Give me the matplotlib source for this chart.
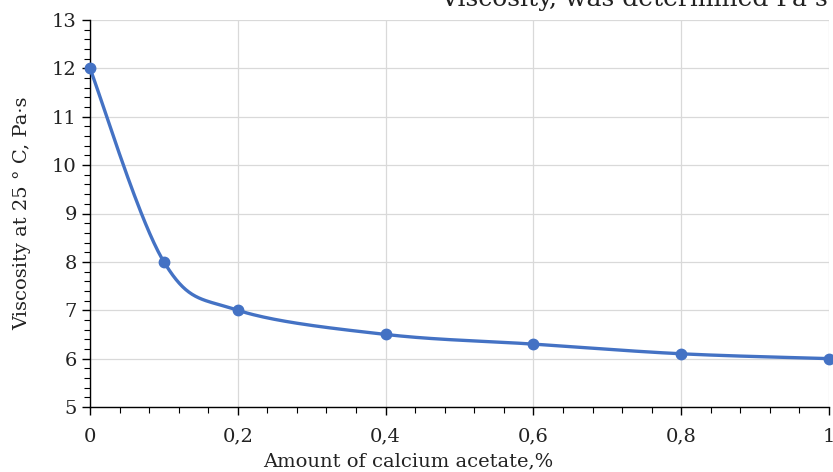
import numpy as np
import matplotlib.pyplot as plt
from matplotlib.ticker import MultipleLocator, FuncFormatter

# data
acetate = [0, 0.1, 0.2, 0.4, 0.6, 0.8, 1.0]
viscosity = [12, 8, 7, 6.5, 6.3, 6.1, 6.0]

BLUE = '#4472C4'
plt.rcParams['font.family'] = ['DejaVu Serif']


def excel_smooth(x, y, n=40):
    """Bezier smoothing like a spreadsheet 'smoothed line'."""
    x = np.asarray(x, float)
    y = np.asarray(y, float)
    px = np.concatenate([[x[0]], x, [x[-1]]])
    py = np.concatenate([[y[0]], y, [y[-1]]])
    xs, ys = [], []
    t = np.linspace(0, 1, n)
    for i in range(len(x) - 1):
        p0 = np.array([px[i + 1], py[i + 1]])
        p3 = np.array([px[i + 2], py[i + 2]])
        c1 = p0 + (np.array([px[i + 2], py[i + 2]]) - np.array([px[i], py[i]])) / 6
        c2 = p3 - (np.array([px[i + 3], py[i + 3]]) - np.array([px[i + 1], py[i + 1]])) / 6
        seg = ((1 - t) ** 3)[:, None] * p0 + (3 * (1 - t) ** 2 * t)[:, None] * c1 \
            + (3 * (1 - t) * t ** 2)[:, None] * c2 + (t ** 3)[:, None] * p3
        xs.extend(seg[:, 0])
        ys.extend(seg[:, 1])
    return np.array(xs), np.array(ys)


fig = plt.figure(figsize=(8.33, 4.72), dpi=100)
ax = fig.add_axes([90 / 833, 1 - 407 / 472, 739 / 833, 387 / 472])

sx, sy = excel_smooth(acetate, viscosity)
ax.plot(sx, sy, color=BLUE, lw=2.4, zorder=3, clip_on=False)
ax.plot(acetate, viscosity, 'o', color=BLUE, ms=7.5, zorder=4, clip_on=False)

ax.set_xlim(0, 1)
ax.set_ylim(5, 13)
ax.xaxis.set_major_locator(MultipleLocator(0.2))
ax.xaxis.set_minor_locator(MultipleLocator(0.04))
ax.yaxis.set_major_locator(MultipleLocator(1))
ax.yaxis.set_minor_locator(MultipleLocator(0.2))
ax.xaxis.set_major_formatter(FuncFormatter(
    lambda v, p: '0' if abs(v) < 1e-9 else ('1' if abs(v - 1) < 1e-9 else f'{v:.1f}'.replace('.', ','))))

ax.grid(True, which='major', color='#d9d9d9', lw=0.9)
ax.set_axisbelow(True)
for side in ['top', 'right']:
    ax.spines[side].set_visible(False)
for side in ['left', 'bottom']:
    ax.spines[side].set_color('#000000')
    ax.spines[side].set_linewidth(1.0)

ax.tick_params(which='major', direction='out', length=6, width=1, labelsize=14, colors='#000000',
               labelcolor='#222222')
ax.tick_params(which='minor', direction='out', length=4, width=0.8, colors='#000000')
ax.tick_params(axis='x', pad=9)

ax.set_xlabel('Amount of calcium acetate,%', fontsize=14, color='#222222')
ax.xaxis.set_label_coords(0.43, -0.118)
ax.set_ylabel('Viscosity at 25 ° C, Pa·s', fontsize=14, color='#222222')
ax.yaxis.set_label_coords(-0.08, 0.5)

# clipped caption running off the top edge
fig.text(440 / 833, 1 - 6 / 472, 'Viscosity, was determined Pa·s', fontsize=18, color='#222222',
         ha='left', va='baseline')

fig.savefig('out.png', dpi=100)
